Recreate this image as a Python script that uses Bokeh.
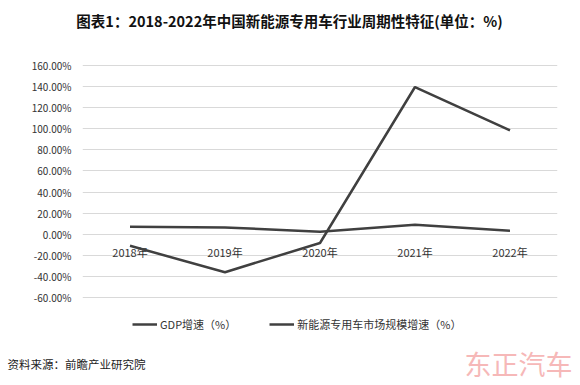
from bokeh.plotting import figure
from bokeh.layouts import column
from bokeh.models import FactorRange, Range1d, Label, Legend, LegendItem, PrintfTickFormatter, FixedTicker
from bokeh.embed import file_html
from bokeh.resources import INLINE

categories = ["2018年", "2019年", "2020年", "2021年", "2022年"]
gdp_growth = [7.2, 6.4, 2.4, 9.0, 3.2]
nev_growth = [-11.0, -36.0, -8.3, 139.6, 98.5]
y_ticks = [-60, -40, -20, 0, 20, 40, 60, 80, 100, 120, 140, 160]
series_names = ["GDP增速（%）", "新能源专用车市场规模增速（%）"]
title_text = "图表1：2018-2022年中国新能源专用车行业周期性特征(单位：%)"
source_text = "资料来源：前瞻产业研究院"
mark_text = "东正汽车"

FONT = "Noto Sans CJK SC"
W = 580
HEAD_H, MAIN_H, FOOT_H = 40, 305, 40

# plot-area geometry (page pixels)
AREA_LEFT, AREA_RIGHT = 82, 557
TICK_TOP_PX, TICK_BOTTOM_PX = 65, 297
FRAME_TOP_PX = 64
FRAME_BOTTOM_PX = HEAD_H + MAIN_H
px_per_unit = (TICK_BOTTOM_PX - TICK_TOP_PX) / (y_ticks[-1] - y_ticks[0])
y_max = y_ticks[-1] + (TICK_TOP_PX - FRAME_TOP_PX) / px_per_unit
y_min = y_ticks[0] - (FRAME_BOTTOM_PX - TICK_BOTTOM_PX) / px_per_unit


def plain_fig(h):
    f = figure(width=W, height=h, x_range=Range1d(0, W), y_range=Range1d(h, 0),
               output_backend="svg", toolbar_location=None, x_axis_location=None,
               y_axis_location=None, min_border=0, frame_align=False)
    f.outline_line_color = None
    f.xgrid.grid_line_color = None
    f.ygrid.grid_line_color = None
    return f


# header
head = plain_fig(HEAD_H)
head.add_layout(Label(x=289, y=20, text=title_text, text_align="center", text_baseline="middle",
                      text_font=FONT, text_font_size="14.5px", text_font_style="bold",
                      text_color="#111111"))

# main chart
p = figure(width=W, height=MAIN_H, x_range=FactorRange(*categories), y_range=Range1d(y_min, y_max),
           output_backend="svg", toolbar_location=None, x_axis_location=None, frame_align=False,
           min_border_left=AREA_LEFT, min_border_right=W - AREA_RIGHT,
           min_border_top=FRAME_TOP_PX - HEAD_H, min_border_bottom=0)
p.outline_line_color = None

ax = p.yaxis[0]
ax.ticker = FixedTicker(ticks=y_ticks)
ax.formatter = PrintfTickFormatter(format="%.2f%%")
ax.axis_line_color = None
ax.major_tick_line_color = None
ax.minor_tick_line_color = None
ax.major_tick_out = 0
ax.major_tick_in = 0
ax.major_label_standoff = 11
ax.major_label_text_font = FONT
ax.major_label_text_font_size = "10px"
ax.major_label_text_color = "#333333"

p.ygrid.grid_line_color = "#d9d9d9"
p.ygrid.grid_line_width = 1
p.xgrid.grid_line_color = None

p.text(x=categories, y=[0] * len(categories), text=categories, text_align="center",
       text_baseline="middle", y_offset=18, text_font_size="11px", text_color="#333333",
       text_font={"value": FONT})

r1 = p.line(categories, gdp_growth, line_color="#404040", line_width=2.5)
r2 = p.line(categories, nev_growth, line_color="#404040", line_width=2.5)

legend = Legend(items=[LegendItem(label=series_names[0], renderers=[r1]),
                       LegendItem(label=series_names[1], renderers=[r2])],
                orientation="horizontal", location=(50, 13), glyph_width=25, glyph_height=12,
                label_height=12, label_standoff=3, spacing=33, padding=0, margin=0,
                border_line_color=None, background_fill_alpha=0,
                label_text_font=FONT, label_text_font_size="11px", label_text_color="#333333")
p.add_layout(legend)

# footer
foot = plain_fig(FOOT_H)
foot.add_layout(Label(x=7, y=18, text=source_text, text_align="left", text_baseline="middle",
                      text_font=FONT, text_font_size="11.5px", text_color="#222222"))
foot.add_layout(Label(x=572, y=18, text=mark_text, text_align="right", text_baseline="middle",
                      text_font=FONT, text_font_size="27px", text_color="#f6b8b8"))

layout = column(head, p, foot, spacing=0)
open("out.html", "w").write(file_html(layout, INLINE))
